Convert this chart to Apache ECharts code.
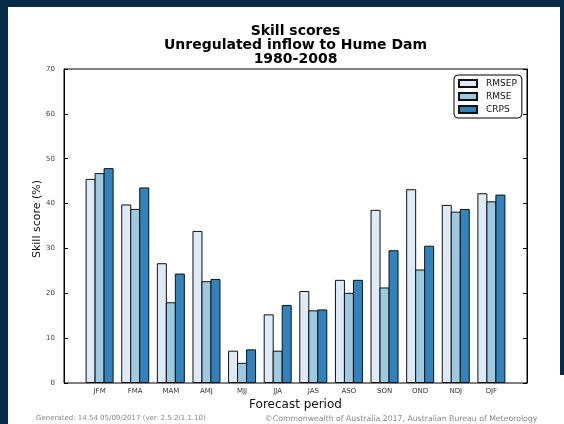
<!DOCTYPE html>
<html>
<head>
<meta charset="utf-8">
<script src="https://cdn.jsdelivr.net/npm/echarts@6/dist/echarts.min.js"></script>
<style>
html,body{margin:0;padding:0;background:#fff;}
#c{width:564px;height:424px;}
</style>
</head>
<body>
<div id="c"></div>
<script>
const categories = ['JFM','FMA','MAM','AMJ','MJJ','JJA','JAS','ASO','SON','OND','NDJ','DJF'];
const rmsep = [45.5, 39.8, 26.7, 33.9, 7.2, 15.3, 20.5, 23.0, 38.6, 43.2, 39.7, 42.3];
const rmse  = [46.8, 38.8, 18.0, 22.7, 4.5, 7.2, 16.2, 20.1, 21.3, 25.3, 38.2, 40.5];
const crps  = [47.9, 43.6, 24.4, 23.2, 7.5, 17.4, 16.4, 23.0, 29.6, 30.6, 38.8, 42.0];
const yTicks = {min: 0, max: 70, interval: 10};

const FONT = 'DejaVu Sans';
const navy = '#0a2a4a';
const chart = echarts.init(document.getElementById('c'), null, {renderer: 'canvas'});

function barSeries(name, data, color) {
  return {
    name: name, type: 'bar', xAxisIndex: 1, yAxisIndex: 2,
    data: data, barWidth: 10, barGap: '-10%',
    itemStyle: {color: color, borderColor: '#111', borderWidth: 1},
    emphasis: {disabled: true}, animation: false
  };
}

chart.setOption({
  animation: false,
  backgroundColor: '#fff',
  grid: [
    {left: 64, right: 37, top: 69, bottom: 41, show: true, borderColor: '#000', borderWidth: 1, backgroundColor: 'transparent'},
    {left: 81.8, width: 427.4, top: 69, bottom: 41}
  ],
  xAxis: [
    {gridIndex: 0, type: 'value', min: 0, max: 1, show: false},
    {gridIndex: 1, type: 'category', data: categories, position: 'bottom',
     axisLine: {show: false},
     axisTick: {inside: true, alignWithLabel: true, length: 4, lineStyle: {color: '#000'}},
     axisLabel: {fontSize: 7, color: '#333', fontFamily: FONT, margin: 5}},
    {gridIndex: 1, type: 'category', data: categories, position: 'top',
     axisLine: {show: false},
     axisTick: {inside: true, alignWithLabel: true, length: 4, lineStyle: {color: '#000'}},
     axisLabel: {show: false}}
  ],
  yAxis: [
    {gridIndex: 0, type: 'value', min: yTicks.min, max: yTicks.max, interval: yTicks.interval,
     axisLine: {show: true, lineStyle: {color: '#000'}},
     axisTick: {show: true, inside: true, length: 4, lineStyle: {color: '#000'}},
     axisLabel: {fontSize: 7, color: '#444', fontFamily: FONT, margin: 9},
     splitLine: {show: false}},
    {gridIndex: 0, type: 'value', position: 'right', min: yTicks.min, max: yTicks.max, interval: yTicks.interval,
     axisLine: {show: true, lineStyle: {color: '#000'}},
     axisTick: {show: true, inside: true, length: 4, lineStyle: {color: '#000'}},
     axisLabel: {show: false}, splitLine: {show: false}},
    {gridIndex: 1, type: 'value', min: yTicks.min, max: yTicks.max, show: false, splitLine: {show: false}}
  ],
  legend: {
    orient: 'vertical', left: 454, top: 75,
    data: ['RMSEP','RMSE','CRPS'],
    itemWidth: 18, itemHeight: 7, itemGap: 4,
    icon: 'rect',
    backgroundColor: '#fff', borderColor: '#000', borderWidth: 1, borderRadius: 4,
    padding: [4, 5, 4, 4],
    textStyle: {fontSize: 9, color: '#111', fontFamily: FONT, padding: [0, 0, 0, 4]},
    selectedMode: false
  },
  series: [
    barSeries('RMSEP', rmsep, '#deebf7'),
    barSeries('RMSE', rmse, '#9ecae1'),
    barSeries('CRPS', crps, '#3182bd')
  ],
  graphic: [
    {type: 'rect', left: 0, top: 0, shape: {width: 564, height: 7}, style: {fill: navy}, silent: true},
    {type: 'rect', left: 0, top: 0, shape: {width: 8, height: 424}, style: {fill: navy}, silent: true},
    {type: 'rect', left: 560, top: 0, shape: {width: 4, height: 375}, style: {fill: navy}, silent: true},
    {type: 'text', x: 295.5, y: 24, style: {text: 'Skill scores', font: 'bold 14px "DejaVu Sans"', fill: '#000', textAlign: 'center'}},
    {type: 'text', x: 295.5, y: 38, style: {text: 'Unregulated inflow to Hume Dam', font: 'bold 14px "DejaVu Sans"', fill: '#000', textAlign: 'center'}},
    {type: 'text', x: 295.5, y: 52, style: {text: '1980-2008', font: 'bold 14px "DejaVu Sans"', fill: '#000', textAlign: 'center'}},
    {type: 'text', x: 295.5, y: 399, style: {text: 'Forecast period', font: '12px "DejaVu Sans"', fill: '#111', textAlign: 'center'}},
    {type: 'text', x: 37, y: 219, rotation: Math.PI / 2, style: {text: 'Skill score (%)', font: '11px "DejaVu Sans"', fill: '#111', textAlign: 'center', textVerticalAlign: 'middle'}},
    {type: 'text', x: 36, y: 415, style: {text: 'Generated: 14:54 05/09/2017 (ver. 2.5.2/1.1.10)', font: '7px "DejaVu Sans"', fill: '#888', textAlign: 'left'}},
    {type: 'text', x: 265, y: 415, style: {text: '\u00A9Commonwealth of Australia 2017, Australian Bureau of Meteorology', font: '7.75px "DejaVu Sans"', fill: '#888', textAlign: 'left'}}
  ]
});
</script>
</body>
</html>
